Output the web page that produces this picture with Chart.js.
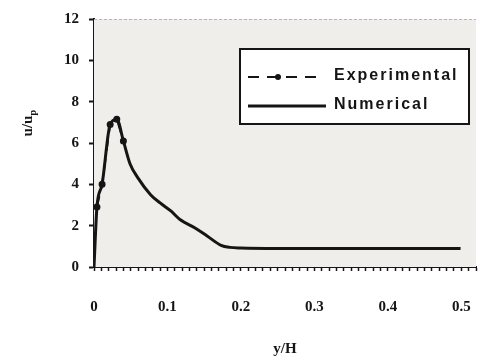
<!DOCTYPE html>
<html lang="en">
<head>
    <meta charset="UTF-8">
    <title>u/up profile</title>
    <script src="https://cdn.jsdelivr.net/npm/chart.js"></script>
    <style>
        body { margin: 0; padding: 0; background: #fff; }
        .wrap { width: 482px; height: 362px; position: relative; }
    </style>
</head>
<body>
    <div class="wrap"><canvas id="chart"></canvas></div>

    <script>
        // Data
        const numX = [0, 0.004, 0.011, 0.022, 0.031, 0.040, 0.049, 0.060, 0.077, 0.090, 0.105, 0.117, 0.137, 0.154, 0.173, 0.185, 0.200, 0.250, 0.300, 0.350, 0.400, 0.450, 0.499];
        const numY = [0, 2.9, 4.0, 6.9, 7.15, 6.1, 5.0, 4.3, 3.5, 3.1, 2.7, 2.3, 1.9, 1.5, 1.05, 0.95, 0.92, 0.9, 0.9, 0.9, 0.9, 0.9, 0.89];
        const expX = [0.004, 0.011, 0.022, 0.031, 0.040];
        const expY = [2.9, 4.0, 6.9, 7.15, 6.1];
        const xLabels = [0, 0.1, 0.2, 0.3, 0.4, 0.5];
        const yLabels = [0, 2, 4, 6, 8, 10, 12];

        const FONT = 'Liberation Serif';
        const ink = '#151515';

        const toPts = (xs, ys) => xs.map((x, i) => ({ x: x, y: ys[i] }));

        // plot background + legend box + y title with subscript
        const decor = {
            id: 'decor',
            beforeDatasetsDraw(chart) {
                const { ctx, chartArea: a } = chart;
                ctx.save();
                ctx.fillStyle = '#efeeea';
                ctx.fillRect(a.left, a.top, a.right - a.left, a.bottom - a.top);
                ctx.strokeStyle = '#b8b8b2';
                ctx.lineWidth = 1;
                ctx.setLineDash([3, 2]);
                ctx.beginPath();
                ctx.moveTo(a.left, a.top + 0.5);
                ctx.lineTo(a.right, a.top + 0.5);
                ctx.stroke();
                ctx.restore();
            },
            afterDraw(chart) {
                const ctx = chart.ctx;
                const ds = chart.data.datasets;
                ctx.save();
                // legend box
                ctx.fillStyle = '#fff';
                ctx.fillRect(240, 49, 229, 75);
                ctx.strokeStyle = ink;
                ctx.lineWidth = 2;
                ctx.strokeRect(240, 49, 229, 75);

                ctx.strokeStyle = ds[0].borderColor;
                ctx.lineWidth = ds[0].borderWidth;
                ctx.setLineDash(ds[0].borderDash);
                ctx.beginPath();
                ctx.moveTo(248, 77); ctx.lineTo(322, 77);
                ctx.stroke();
                ctx.setLineDash([]);
                ctx.fillStyle = ink;
                ctx.beginPath();
                ctx.arc(278, 77, 3, 0, Math.PI * 2);
                ctx.fill();

                ctx.strokeStyle = ds[1].borderColor;
                ctx.lineWidth = ds[1].borderWidth;
                ctx.beginPath();
                ctx.moveTo(248, 106); ctx.lineTo(326, 106);
                ctx.stroke();

                ctx.font = 'bold 16px "Liberation Sans Narrow", "Liberation Sans", sans-serif';
                ctx.letterSpacing = '2px';
                ctx.textBaseline = 'middle';
                ctx.fillText(ds[0].label, 334, 76);
                ctx.fillText(ds[1].label, 334, 105);
                ctx.letterSpacing = '0px';

                // y axis title u/u_p
                ctx.translate(27, 122);
                ctx.rotate(-Math.PI / 2);
                ctx.textAlign = 'left';
                ctx.textBaseline = 'alphabetic';
                ctx.font = 'bold 15px "' + FONT + '"';
                const main = 'u/u';
                const w = ctx.measureText(main).width;
                ctx.fillText(main, -w / 2 - 4, 5);
                ctx.font = 'bold 10px "' + FONT + '"';
                ctx.fillText('p', w / 2 - 4, 9);
                ctx.restore();
            }
        };

        new Chart(document.getElementById('chart'), {
            type: 'scatter',
            data: {
                datasets: [
                    {
                        label: 'Experimental',
                        data: toPts(expX, expY),
                        showLine: true,
                        borderColor: ink,
                        backgroundColor: ink,
                        borderWidth: 2,
                        borderDash: [11, 8],
                        pointRadius: 2.5,
                        tension: 0
                    },
                    {
                        label: 'Numerical',
                        data: toPts(numX, numY),
                        showLine: true,
                        borderColor: ink,
                        backgroundColor: ink,
                        borderWidth: 3,
                        pointRadius: 0,
                        cubicInterpolationMode: 'monotone'
                    }
                ]
            },
            options: {
                responsive: true,
                maintainAspectRatio: false,
                animation: false,
                layout: { padding: { top: 15, right: 0, left: 0, bottom: 0 } },
                plugins: {
                    legend: { display: false },
                    tooltip: { enabled: false }
                },
                scales: {
                    x: {
                        type: 'linear',
                        min: 0,
                        max: 0.52,
                        afterBuildTicks(s) {
                            const t = [];
                            for (let i = 0; i <= 52; i++) t.push({ value: i / 100 });
                            s.ticks = t;
                        },
                        afterFit(s) {
                            s.height = 95;
                            s.paddingLeft = 0;
                            s.paddingRight = 0;
                        },
                        border: { color: ink, width: 2 },
                        grid: { drawOnChartArea: false, color: ink, tickLength: 4, tickWidth: 1.5 },
                        ticks: {
                            autoSkip: false,
                            maxRotation: 0,
                            padding: 27,
                            color: ink,
                            font: { family: FONT, size: 15, weight: 'bold' },
                            callback(v) {
                                const k = Math.round(v * 100);
                                if (k % 10 !== 0) return '';
                                const lab = xLabels.find(l => Math.round(l * 100) === k);
                                return lab === undefined ? '' : String(lab);
                            }
                        },
                        title: {
                            display: true,
                            text: 'y/H',
                            color: ink,
                            font: { family: FONT, size: 15, weight: 'bold' },
                            padding: { top: 24 }
                        }
                    },
                    y: {
                        min: 0,
                        max: 12,
                        afterBuildTicks(s) { s.ticks = yLabels.map(v => ({ value: v })); },
                        afterFit(s) { s.width = 94; },
                        border: { color: ink, width: 2 },
                        grid: { drawOnChartArea: false, color: ink, tickLength: 5, tickWidth: 2 },
                        ticks: {
                            padding: 10,
                            color: ink,
                            font: { family: FONT, size: 15, weight: 'bold' }
                        }
                    }
                }
            },
            plugins: [decor]
        });
    </script>
</body>
</html>
